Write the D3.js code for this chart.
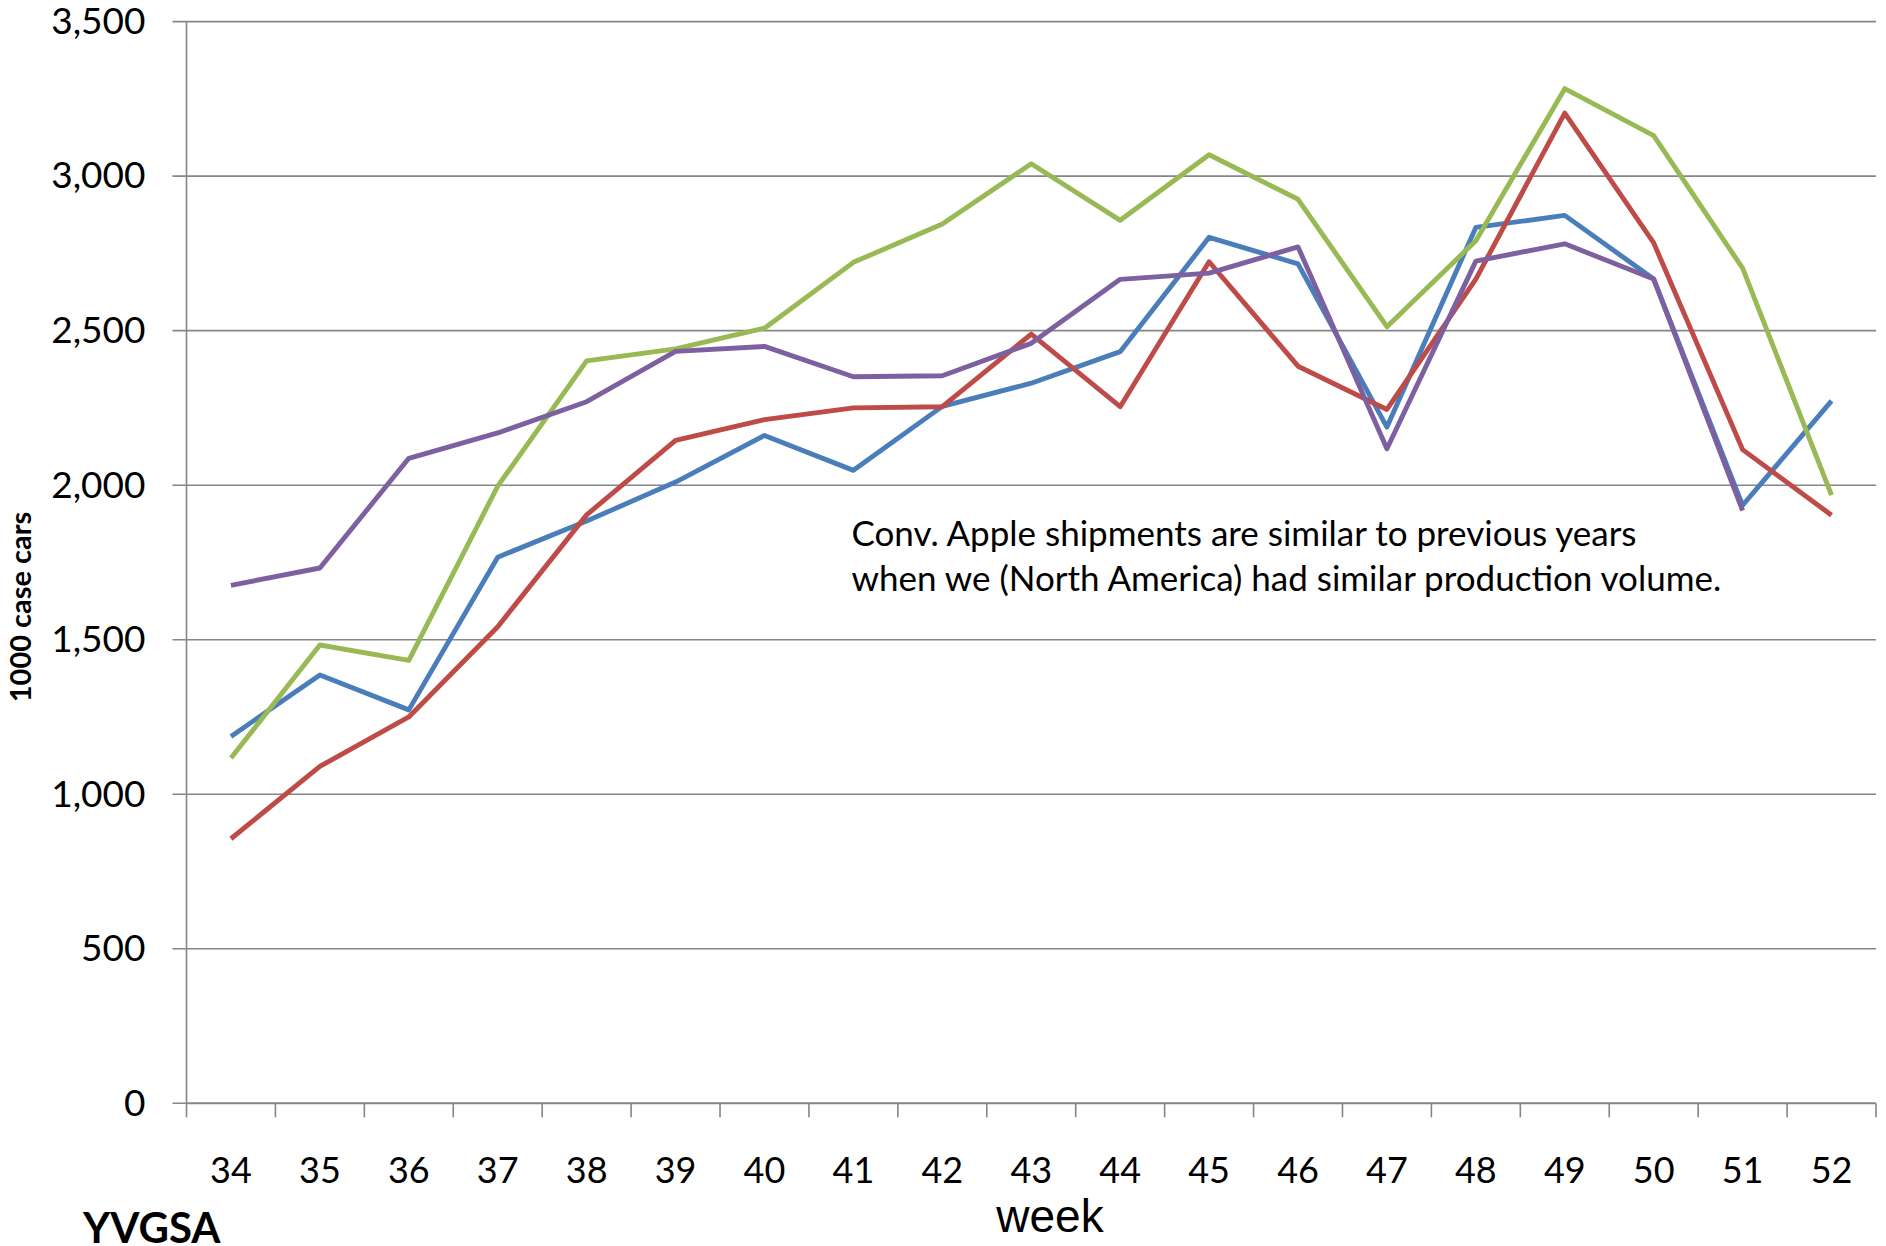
<!DOCTYPE html>
<html>
<head>
<meta charset="utf-8">
<script src="https://cdn.jsdelivr.net/npm/d3@7"></script>
<style>
  html, body { margin: 0; padding: 0; background: #fff; }
  svg { display: block; }
</style>
</head>
<body>
<svg id="chart" width="1886" height="1246"></svg>
<script>
// Weekly shipments, thousand case cars, weeks 34-52
const weeks = [34, 35, 36, 37, 38, 39, 40, 41, 42, 43, 44, 45, 46, 47, 48, 49, 50, 51, 52];

const seriesBlue   = [1187, 1386, 1273, 1767, 1884, 2010, 2161, 2048, 2255, 2330, 2432, 2802, 2716, 2188, 2834, 2873, 2667, 1935, 2273];
const seriesRed    = [ 856, 1090, 1250, 1542, 1904, 2145, 2212, 2250, 2254, 2489, 2254, 2723, 2385, 2245, 2667, 3204, 2784, 2115, 1903];
const seriesGreen  = [1117, 1483, 1433, 1997, 2402, 2441, 2508, 2721, 2845, 3040, 2857, 3069, 2925, 2513, 2791, 3283, 3131, 2702, 1968];
const seriesPurple = [1676, 1732, 2087, 2169, 2270, 2433, 2449, 2351, 2354, 2459, 2666, 2686, 2771, 2118, 2725, 2781, 2667, 1918, null];

const yTicks = [0, 500, 1000, 1500, 2000, 2500, 3000, 3500];

const series = [
  { name: "blue",   values: seriesBlue,   color: "#4A7EBB" },
  { name: "red",    values: seriesRed,    color: "#BE4B48" },
  { name: "green",  values: seriesGreen,  color: "#98B954" },
  { name: "purple", values: seriesPurple, color: "#7D60A0" }
];

const noteLines = [
  "Conv. Apple shipments are similar to previous years",
  "when we (North America) had similar production volume."
];

const svg = d3.select("#chart");

const plot = { left: 186.5, right: 1876, top: 21.6, bottom: 1103.3 };
const gridColor = "#868686";
const labelFont = "Lato, 'Open Sans', sans-serif";

const x = d3.scaleBand().domain(weeks).range([plot.left, plot.right]).padding(0);
const y = d3.scaleLinear().domain([0, 3500]).range([plot.bottom, plot.top]);

// horizontal gridlines (also serve as the y tick marks)
svg.append("g")
  .selectAll("line")
  .data(yTicks)
  .join("line")
  .attr("x1", plot.left - 14)
  .attr("x2", plot.right)
  .attr("y1", d => y(d))
  .attr("y2", d => y(d))
  .attr("stroke", gridColor)
  .attr("stroke-width", 1.6);

// y axis labels
const yAxis = d3.axisLeft(y)
  .tickValues(yTicks)
  .tickSize(0)
  .tickPadding(41)
  .tickFormat(d3.format(","));
const gy = svg.append("g").attr("transform", `translate(${plot.left},0)`).call(yAxis);
gy.select(".domain").remove();
gy.selectAll("text")
  .attr("font-family", labelFont)
  .attr("font-size", 37)
  .attr("fill", "#000");

// vertical axis line
svg.append("line")
  .attr("x1", plot.left).attr("x2", plot.left)
  .attr("y1", plot.top).attr("y2", plot.bottom)
  .attr("stroke", gridColor)
  .attr("stroke-width", 1.6);

// x axis: labels centred in each band, tick marks on the band edges
const xAxis = d3.axisBottom(x).tickSize(0).tickPadding(0);
const gx = svg.append("g").attr("transform", `translate(0,${plot.bottom})`).call(xAxis);
gx.select(".domain").remove();
gx.selectAll("text")
  .attr("font-family", labelFont)
  .attr("font-size", 36)
  .attr("fill", "#000")
  .attr("dy", null)
  .attr("y", 80);

const edges = weeks.map(w => x(w)).concat([x.range()[1]]);
svg.append("g")
  .selectAll("line")
  .data(edges)
  .join("line")
  .attr("x1", d => d).attr("x2", d => d)
  .attr("y1", plot.bottom).attr("y2", plot.bottom + 14)
  .attr("stroke", gridColor)
  .attr("stroke-width", 1.6);

svg.append("line")
  .attr("x1", plot.left).attr("x2", plot.right)
  .attr("y1", plot.bottom).attr("y2", plot.bottom)
  .attr("stroke", gridColor)
  .attr("stroke-width", 1.8);

// data lines
const line = d3.line()
  .defined(d => d.v != null)
  .x(d => x(d.w) + x.bandwidth() / 2)
  .y(d => y(d.v));

svg.append("g")
  .selectAll("path")
  .data(series)
  .join("path")
  .attr("d", s => line(weeks.map((w, i) => ({ w, v: s.values[i] }))))
  .attr("fill", "none")
  .attr("stroke", s => s.color)
  .attr("stroke-width", 4.9)
  .attr("stroke-linejoin", "round")
  .attr("stroke-linecap", "butt");

// annotation
svg.append("g")
  .selectAll("text")
  .data(noteLines)
  .join("text")
  .attr("x", 851.5)
  .attr("y", (d, i) => 546 + i * 45)
  .attr("font-family", labelFont)
  .attr("font-size", 35)
  .attr("fill", "#000")
  .text(d => d);

// axis titles
svg.append("text")
  .attr("transform", "translate(31,607) rotate(-90)")
  .attr("text-anchor", "middle")
  .attr("font-family", labelFont)
  .attr("font-weight", "bold")
  .attr("font-size", 29)
  .attr("fill", "#000")
  .text("1000 case cars");

svg.append("text")
  .attr("x", 1050)
  .attr("y", 1232)
  .attr("text-anchor", "middle")
  .attr("font-family", "'Liberation Sans', Arial, sans-serif")
  .attr("font-size", 46)
  .attr("fill", "#000")
  .text("week");

svg.append("text")
  .attr("x", 83)
  .attr("y", 1243)
  .attr("font-family", labelFont)
  .attr("font-weight", "bold")
  .attr("font-size", 42)
  .attr("fill", "#000")
  .text("YVGSA");
</script>
</body>
</html>
